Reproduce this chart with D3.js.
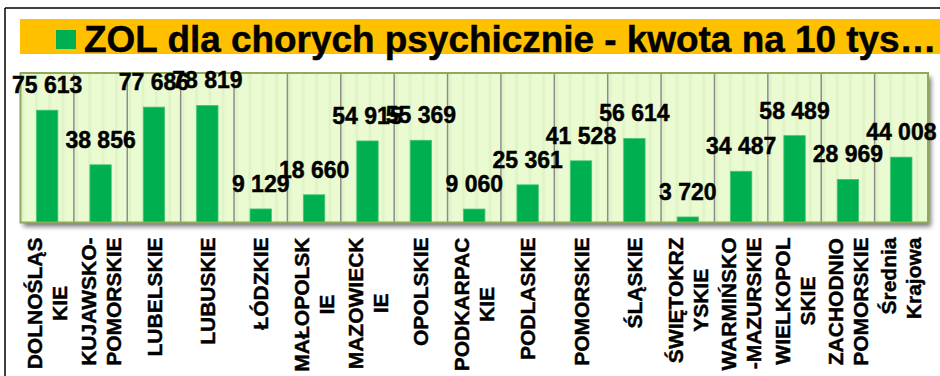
<!DOCTYPE html>
<html>
<head>
<meta charset="utf-8">
<script src="https://cdn.jsdelivr.net/npm/d3@7/dist/d3.min.js"></script>
<style>
  html, body { margin: 0; padding: 0; background: #ffffff; }
  svg { display: block; }
  text { font-family: "Liberation Sans", Arial, sans-serif; font-weight: bold; stroke: #000; stroke-width: 0.45px; }
</style>
</head>
<body>
<svg id="chart" width="940" height="376"></svg>
<script>
// Voivodeship names as they are broken onto label lines
const categories = [
  ["DOLNOŚLĄS", "KIE"],
  ["KUJAWSKO-", "POMORSKIE"],
  ["LUBELSKIE"],
  ["LUBUSKIE"],
  ["ŁÓDZKIE"],
  ["MAŁOPOLSK", "IE"],
  ["MAZOWIECK", "IE"],
  ["OPOLSKIE"],
  ["PODKARPAC", "KIE"],
  ["PODLASKIE"],
  ["POMORSKIE"],
  ["ŚLĄSKIE"],
  ["ŚWIĘTOKRZ", "YSKIE"],
  ["WARMIŃSKO", "-MAZURSKIE"],
  ["WIELKOPOL", "SKIE"],
  ["ZACHODNIO", "POMORSKIE"],
  ["Średnia", "Krajowa"]
];
// Amount per 10 thousand inhabitants
const values = [75613, 38856, 77686, 78819, 9129, 18660, 54915, 55369, 9060,
                25361, 41528, 56614, 3720, 34487, 58489, 28969, 44008];
const yDomain = [0, 100000];
const title = "ZOL dla chorych psychicznie - kwota na 10 tys…";

const svg = d3.select("#chart");
const W = 940, H = 376;
const plot = { left: 20.5, right: 928, top: 74, bottom: 222.5 };
const green = "#00b050";

const defs = svg.append("defs");
const pat = defs.append("pattern")
  .attr("id", "stripes").attr("patternUnits", "userSpaceOnUse")
  .attr("x", plot.left).attr("y", 0)
  .attr("width", (plot.right - plot.left) / 17 / 4).attr("height", 10);
pat.append("rect").attr("width", 20).attr("height", 10).attr("fill", "#eafbd2");
pat.append("rect").attr("x", 1).attr("width", 3).attr("height", 10).attr("fill", "#e1f4c8");

const sh = defs.append("filter").attr("id", "shadow")
  .attr("x", "-5%").attr("y", "-10%").attr("width", "115%").attr("height", "130%");
sh.append("feGaussianBlur").attr("in", "SourceAlpha").attr("stdDeviation", 2.5);
sh.append("feOffset").attr("dx", 3).attr("dy", 4).attr("result", "off");
sh.append("feComponentTransfer").append("feFuncA").attr("type", "linear").attr("slope", 0.55);
const m = sh.append("feMerge");
m.append("feMergeNode");
m.append("feMergeNode").attr("in", "SourceGraphic");

// slide frame
svg.append("line").attr("x1", 5).attr("x2", W).attr("y1", 8).attr("y2", 8)
  .attr("stroke", "#000").attr("stroke-width", 1.5);
svg.append("line").attr("x1", 5).attr("x2", 5).attr("y1", 8).attr("y2", H)
  .attr("stroke", "#000").attr("stroke-width", 1.5);

// title band with legend key
svg.append("rect").attr("x", 20).attr("y", 19).attr("width", W - 20).attr("height", 35)
  .attr("fill", "#ffc000");
svg.append("rect").attr("x", 56).attr("y", 30).attr("width", 20).attr("height", 19)
  .attr("fill", green);
const t = svg.append("text").attr("x", 84).attr("y", 51.5)
  .attr("font-size", 36.5).attr("fill", "#000").text(title);
const tw = t.node().getComputedTextLength();
if (tw > 0) t.attr("font-size", Math.max(30, Math.min(40, 36.5 * 853 / tw)));

// scales
const x = d3.scaleBand().domain(d3.range(categories.length))
  .range([plot.left, plot.right]).paddingInner(0.6).paddingOuter(0.3);
const y = d3.scaleLinear().domain(yDomain).range([plot.bottom, plot.top]);
const step = x.step();

// plot area
svg.append("rect").attr("x", plot.left).attr("y", plot.top - 1)
  .attr("width", plot.right - plot.left).attr("height", plot.bottom - plot.top + 1)
  .attr("fill", "url(#stripes)").attr("filter", "url(#shadow)");

// category separators
svg.append("g").selectAll("line").data(d3.range(1, categories.length)).join("line")
  .attr("x1", i => plot.left + step * i).attr("x2", i => plot.left + step * i)
  .attr("y1", plot.top - 1).attr("y2", plot.bottom)
  .attr("stroke", "#8c8c8c").attr("stroke-width", 1.5);

// bars
svg.append("g").selectAll("rect").data(values).join("rect")
  .attr("x", (d, i) => x(i)).attr("width", x.bandwidth())
  .attr("y", d => y(d)).attr("height", d => plot.bottom - y(d))
  .attr("fill", green).attr("stroke", "#3fc676").attr("stroke-width", 0.8);

// plot border
svg.append("rect").attr("x", plot.left).attr("y", plot.top - 1)
  .attr("width", plot.right - plot.left).attr("height", plot.bottom - plot.top + 1)
  .attr("fill", "none").attr("stroke", "#8faa5a").attr("stroke-width", 2);

// value labels
const fmt = v => d3.format(",")(v).replace(/,/g, " ");
svg.append("g").selectAll("text").data(values).join("text")
  .attr("x", (d, i) => x(i) + x.bandwidth() / 2)
  .attr("y", d => y(d) - 17)
  .attr("text-anchor", "middle").attr("font-size", 23).attr("fill", "#000")
  .text(d => fmt(d));

// category labels, rotated
const fs = 21, lineGap = 25, labelTop = 237.5;
const lg = svg.append("g");
categories.forEach((lines, i) => {
  const cx = x(i) + x.bandwidth() / 2;
  const g = lg.append("g");
  const nodes = lines.map((s, k) => {
    const off = (k - (lines.length - 1) / 2) * lineGap + fs * 0.36;
    return g.append("text").attr("font-size", fs).attr("fill", "#000")
      .attr("transform", `translate(${cx + off},${labelTop}) rotate(-90)`)
      .attr("text-anchor", "end").text(s);
  });
  // word broken mid-way: continuation line centred on the first line
  const midWord = lines.length > 1 && !/[-\s]$/.test(lines[0]) && !/^-/.test(lines[1]) && !/[a-ząćęłńóśźż]/.test(lines.join(""));
  if (midWord) {
    const wmax = d3.max(nodes, n => n.node().getComputedTextLength());
    nodes.forEach((n, k) => {
      const off = (k - (lines.length - 1) / 2) * lineGap + fs * 0.36;
      n.attr("text-anchor", "middle")
        .attr("transform", `translate(${cx + off},${labelTop + wmax / 2}) rotate(-90)`);
    });
  }
});
</script>
</body>
</html>
